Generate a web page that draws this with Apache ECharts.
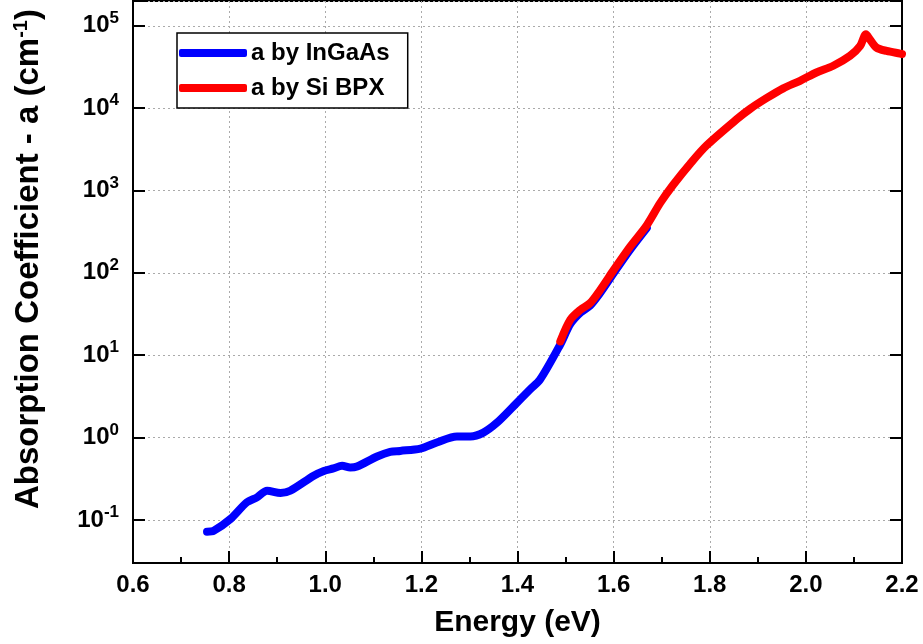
<!DOCTYPE html>
<html>
<head>
<meta charset="utf-8">
<script src="https://cdn.jsdelivr.net/npm/echarts@6/dist/echarts.min.js"></script>
<style>
  html, body { margin: 0; padding: 0; background: #fff; }
  #chart { width: 923px; height: 644px; }
</style>
</head>
<body>
<div id="chart"></div>
<script>
// energy (eV) and absorption coefficient (cm^-1)
var ingaasE = [0.754, 0.768, 0.803, 0.837, 0.858, 0.879, 0.907, 0.927, 0.976, 0.997,
  1.017, 1.035, 1.052, 1.066, 1.108, 1.135, 1.156, 1.198, 1.232, 1.274,
  1.302, 1.329, 1.357, 1.392, 1.426, 1.447, 1.489, 1.51, 1.531, 1.551,
  1.572, 1.6, 1.634, 1.669];
var ingaasA = [0.072, 0.074, 0.103, 0.164, 0.188, 0.226, 0.212, 0.226, 0.344, 0.394,
  0.422, 0.454, 0.434, 0.446, 0.589, 0.670, 0.689, 0.736, 0.871, 1.03,
  1.03, 1.15, 1.51, 2.41, 3.84, 5.07, 13.5, 24, 33, 40,
  57, 99, 190, 350];

var siE = [1.489, 1.51, 1.531, 1.551, 1.572, 1.6, 1.634, 1.669, 1.697, 1.724,
  1.76, 1.794, 1.857, 1.884, 1.918, 1.953, 1.988, 2.022, 2.057, 2.092,
  2.113, 2.125, 2.133, 2.147, 2.168, 2.196, 2.2];
var siA = [14.7, 27, 35.6, 42.9, 62, 108, 207, 379, 708, 1175,
  2140, 3550, 7400, 9800, 13200, 17400, 21500, 27100, 32700, 43200,
  57000, 78900, 68700, 54300, 49500, 46000, 45500];

var seriesNames = ['a by InGaAs', 'a by Si BPX'];
var xTicks = [0.6, 0.8, 1.0, 1.2, 1.4, 1.6, 1.8, 2.0, 2.2];

function pairs(xs, ys) {
  return xs.map(function (x, i) { return [x, ys[i]]; });
}

var font = '"Liberation Sans", Arial, sans-serif';
var gridLine = { show: true, lineStyle: { color: '#aaa', type: [2, 3], width: 1 } };

function powLabel(v) {
  var p = Math.log10(v);
  if (Math.abs(p - Math.round(p)) > 1e-6) return '';
  return '{b|10}{s|' + Math.round(p) + '}';
}

var chart = echarts.init(document.getElementById('chart'));
chart.setOption({
  animation: false,
  backgroundColor: '#fff',
  textStyle: { fontFamily: font },
  grid: { left: 133, right: 21, top: 1, bottom: 81, show: true, borderColor: '#000', borderWidth: 2 },
  legend: {
    data: seriesNames,
    orient: 'vertical',
    left: 177, top: 33,
    padding: [8, 18, 8, 2],
    borderColor: '#000', borderWidth: 1.5,
    backgroundColor: '#fff',
    icon: 'roundRect',
    itemWidth: 68, itemHeight: 8,
    itemGap: 11,
    textStyle: { fontSize: 24, fontWeight: 'bold', color: '#000', fontFamily: font, padding: [0, 0, 0, -1] }
  },
  xAxis: {
    type: 'value',
    min: xTicks[0], max: xTicks[xTicks.length - 1], interval: 0.2,
    name: 'Energy (eV)',
    nameLocation: 'middle', nameGap: 45,
    nameTextStyle: { fontSize: 30, fontWeight: 'bold', color: '#000', fontFamily: font },
    axisLine: { lineStyle: { color: '#000', width: 2 } },
    axisTick: { inside: true, length: 12, lineStyle: { color: '#000', width: 2 } },
    minorTick: { show: true, splitNumber: 2, length: 6, lineStyle: { color: '#000', width: 2 } },
    axisLabel: { fontSize: 24, fontWeight: 'bold', color: '#000', margin: 10, fontFamily: font,
      formatter: function (v) { return v.toFixed(1); } },
    splitLine: gridLine
  },
  yAxis: [{
    type: 'log', logBase: 10,
    min: 0.03, max: 200000,
    name: 'Absorption Coefficient - a (cm{s|-1})',
    nameLocation: 'middle', nameGap: 86,
    nameTextStyle: { fontSize: 33, fontWeight: 'bold', color: '#000', fontFamily: font,
      padding: [0, 0, 0, 46],
      rich: { s: { fontSize: 20, fontWeight: 'bold', color: '#000', fontFamily: font, padding: [0, 0, 16, 0] } } },
    axisLine: { lineStyle: { color: '#000', width: 2 } },
    axisTick: { inside: true, length: 12, lineStyle: { color: '#000', width: 2 } },
    axisLabel: { margin: 14, color: '#000', formatter: powLabel,
      rich: {
        b: { fontSize: 24, fontWeight: 'bold', color: '#000', fontFamily: font },
        s: { fontSize: 17, fontWeight: 'bold', color: '#000', fontFamily: font, padding: [0, 0, 15, 0] }
      } },
    splitLine: gridLine
  }, {
    type: 'log', logBase: 10,
    min: 0.03, max: 200000,
    position: 'right',
    axisLine: { show: true, lineStyle: { color: '#000', width: 2 } },
    axisTick: { show: true, inside: true, length: 12, lineStyle: { color: '#000', width: 2 } },
    axisLabel: { show: false },
    splitLine: { show: false }
  }],
  series: [{
    name: seriesNames[0],
    type: 'line',
    data: pairs(ingaasE, ingaasA),
    smooth: 0.3,
    showSymbol: false,
    color: '#0000ff',
    lineStyle: { width: 8, color: '#0000ff', cap: 'round', join: 'round' },
    z: 2
  }, {
    name: seriesNames[1],
    type: 'line',
    data: pairs(siE, siA),
    smooth: 0.3,
    showSymbol: false,
    color: '#ff0000',
    lineStyle: { width: 8, color: '#ff0000', cap: 'round', join: 'round' },
    z: 3
  }]
});
</script>
</body>
</html>
